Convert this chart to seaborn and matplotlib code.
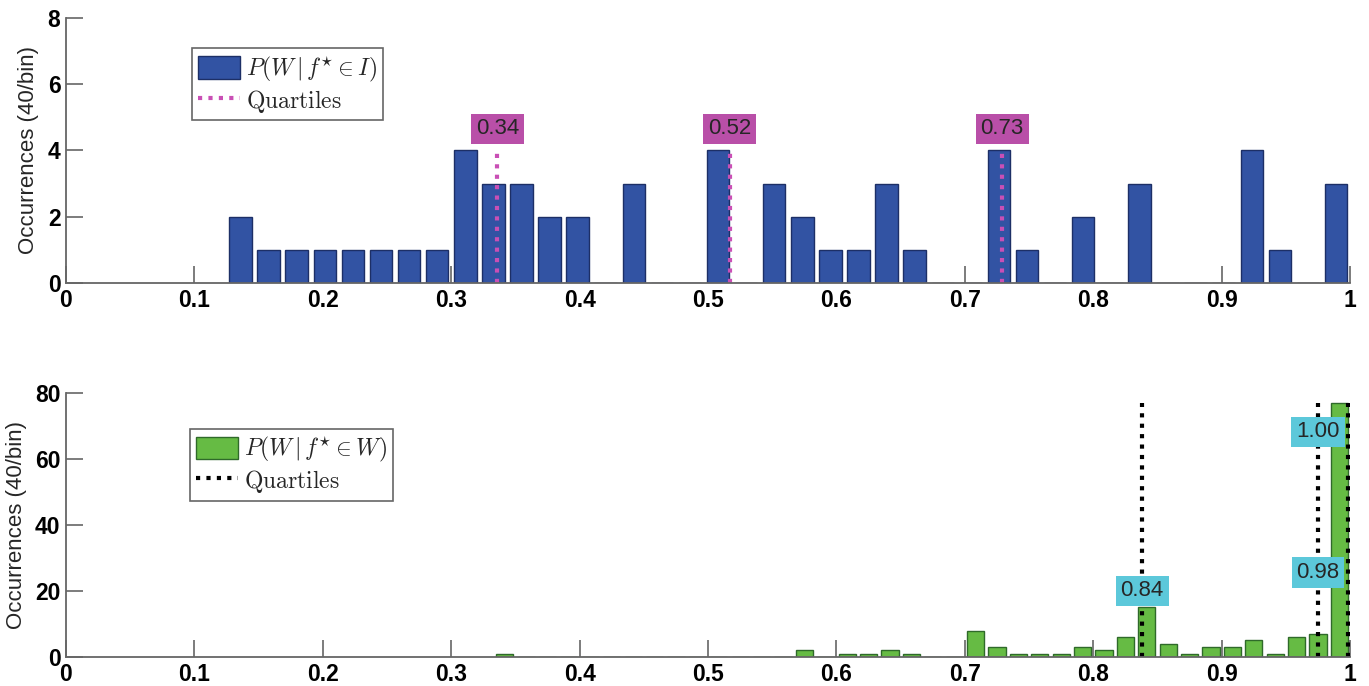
import numpy as np
import pandas as pd
import matplotlib
matplotlib.use("Agg")
import matplotlib.pyplot as plt
import seaborn as sns
from matplotlib.patches import Patch
from matplotlib.lines import Line2D

# 40 bins over the data range (MATLAB hist style)
top_range = [0.125, 1.0]
top_counts = [2, 1, 1, 1, 1, 1, 1, 1, 4, 3,
              3, 2, 2, 0, 3, 0, 0, 4, 0, 3,
              2, 1, 1, 3, 1, 0, 0, 4, 1, 0,
              2, 0, 3, 0, 0, 0, 4, 1, 0, 3]
top_quartiles = [0.336, 0.517, 0.729]
top_qlabels = ["0.34", "0.52", "0.73"]
top_label_x = [0.336, 0.517, 0.729]
top_label_y = [4.65, 4.65, 4.65]

bot_range = [1 / 3, 1.0]
bot_counts = [1, 0, 0, 0, 0, 0, 0, 0, 0, 0,
              0, 0, 0, 0, 2, 0, 1, 1, 2, 1,
              0, 0, 8, 3, 1, 1, 1, 3, 2, 6,
              15, 4, 1, 3, 3, 5, 1, 6, 7, 77]
bot_quartiles = [0.838, 0.975, 0.998]
bot_qlabels = ["0.84", "0.98", "1.00"]
bot_label_x = [0.838, 0.975, 0.975]
bot_label_y = [20.0, 25.6, 68.2]

sns.set_theme(style="ticks")
plt.rcParams['font.family'] = ['Liberation Sans', 'DejaVu Sans']
plt.rcParams['mathtext.fontset'] = 'cm'

blue = "#3253A3"
green = "#66BB44"
magenta_line = "#C94FB5"
magenta_box = "#B94FA8"
cyan_box = "#5CC8DA"
axis_gray = "#666666"


def make_df(rng, counts):
    edges = np.linspace(rng[0], rng[1], 41)
    centers = (edges[:-1] + edges[1:]) / 2
    df = pd.DataFrame({"x": centers, "n": counts})
    return df[df["n"] > 0]


def style_axis(ax, ymax, yticks):
    ax.set_xlim(0, 1)
    ax.set_ylim(0, ymax)
    ax.set_xticks(np.arange(0, 1.01, 0.1))
    ax.set_xticklabels(["0", "0.1", "0.2", "0.3", "0.4", "0.5", "0.6", "0.7", "0.8", "0.9", "1"])
    ax.set_yticks(yticks)
    ax.tick_params(direction="in", length=12, width=1.2, color=axis_gray,
                   labelsize=16.5, labelcolor="black", pad=4)
    for lab in ax.get_xticklabels() + ax.get_yticklabels():
        lab.set_fontweight("bold")
    for s in ["top", "right"]:
        ax.spines[s].set_visible(False)
    for s in ["left", "bottom"]:
        ax.spines[s].set_color(axis_gray)
        ax.spines[s].set_linewidth(1.3)
    ax.set_xlabel("")
    ax.set_ylabel("Occurrences (40/bin)", fontsize=16, labelpad=6)


def add_legend(ax, handles, labels, anchor):
    leg = ax.legend(handles, labels, loc="upper left", bbox_to_anchor=anchor, fontsize=17,
                    frameon=True, fancybox=False, framealpha=1, edgecolor=axis_gray,
                    handlelength=1.8, handleheight=1.1, borderpad=0.25, labelspacing=0.15,
                    handletextpad=0.25, borderaxespad=0)
    leg.get_frame().set_linewidth(1.2)
    return leg


fig = plt.figure(figsize=(13.69, 6.86), dpi=100)
ax1 = fig.add_axes([0.0482, 0.5875, 0.938, 0.3863])
ax2 = fig.add_axes([0.0482, 0.0423, 0.938, 0.3848])

# top panel
df_top = make_df(top_range, top_counts)
sns.histplot(data=df_top, x="x", weights="n", bins=40, binrange=top_range, shrink=0.8,
             color=blue, edgecolor="#1d2f66", linewidth=1, alpha=1, ax=ax1)
style_axis(ax1, 8, [0, 2, 4, 6, 8])
for q in top_quartiles:
    ax1.plot([q, q], [0, max(top_counts)], color=magenta_line, lw=3,
             linestyle=(0, (1, 1.5)), dash_capstyle="butt")
for x, y, t in zip(top_label_x, top_label_y, top_qlabels):
    ax1.text(x, y, t, ha="center", va="center", fontsize=16,
             bbox=dict(boxstyle="square,pad=0.22", fc=magenta_box, ec="none"))
h1 = [Patch(facecolor=blue, edgecolor="#1d2f66"),
      Line2D([], [], color=magenta_line, lw=3, linestyle=(0, (1, 1.5)), dash_capstyle="butt")]
add_legend(ax1, h1, [r"$P(W\,|\,f^{\star}\in I)$", r"$\mathrm{Quartiles}$"], (0.098, 0.885))

# bottom panel
df_bot = make_df(bot_range, bot_counts)
sns.histplot(data=df_bot, x="x", weights="n", bins=40, binrange=bot_range, shrink=0.8,
             color=green, edgecolor="#2f6a2a", linewidth=1, alpha=1, ax=ax2)
style_axis(ax2, 80, [0, 20, 40, 60, 80])
for q in bot_quartiles:
    ax2.plot([q, q], [0, max(bot_counts)], color="black", lw=3,
             linestyle=(0, (1, 1.5)), dash_capstyle="butt")
for x, y, t in zip(bot_label_x, bot_label_y, bot_qlabels):
    ax2.text(x, y, t, ha="center", va="center", fontsize=16,
             bbox=dict(boxstyle="square,pad=0.22", fc=cyan_box, ec="none"))
h2 = [Patch(facecolor=green, edgecolor="#2f6a2a"),
      Line2D([], [], color="black", lw=3, linestyle=(0, (1, 1.5)), dash_capstyle="butt")]
add_legend(ax2, h2, [r"$P(W\,|\,f^{\star}\in W)$", r"$\mathrm{Quartiles}$"], (0.0966, 0.864))

fig.savefig("out.png", dpi=100)
